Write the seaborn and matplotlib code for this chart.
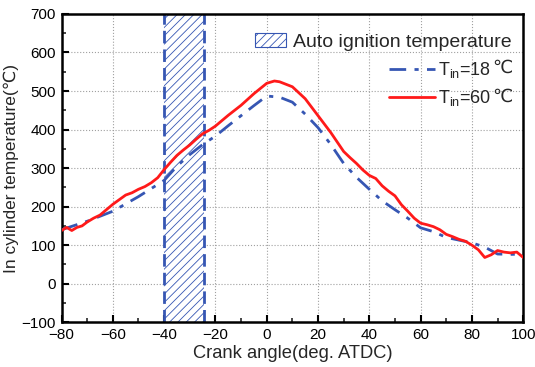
import matplotlib
matplotlib.use("Agg")
import matplotlib.pyplot as plt
from matplotlib.patches import Patch
from matplotlib.lines import Line2D
import seaborn as sns
import pandas as pd
import numpy as np

# ---- data ----
crank_18 = [-80, -70, -60, -50, -40, -35, -30, -25, -20, -15, -10, -5, 0, 5, 10, 15, 20, 25, 30,
            35, 40, 45, 50, 55, 60, 65, 70, 75, 80, 85, 90, 95, 100]
temp_18 = [140, 162, 188, 226, 268, 305, 335, 361, 383, 410, 436, 462, 487, 484, 471, 440, 405, 361, 312,
           276, 245, 215, 192, 170, 145, 135, 120, 113, 106, 95, 77, 76, 77]

crank_60 = [-80, -78, -76, -74, -72, -70, -67.5, -65, -62.5, -60, -57.5, -55, -52.5, -50, -47.5, -45, -42.5,
            -40, -37.5, -35, -32.5, -30, -27.5, -25, -22.5, -20, -15, -10, -5, 0, 3, 5, 10, 15, 20, 25, 30,
            32.5, 35, 37.5, 40, 42.5, 45, 47.5, 50, 52.5, 55, 57.5, 60, 62.5, 65, 67.5, 70, 72.5, 75, 77.5,
            80, 82.5, 85, 87.5, 90, 92.5, 95, 97.5, 100]
temp_60 = [138, 146, 138, 146, 150, 160, 170, 178, 192, 206, 218, 230, 236, 245, 252, 262, 275,
           296, 315, 333, 347, 360, 375, 389, 398, 409, 437, 463, 493, 520, 526, 524, 511, 480, 436, 392, 343,
           327, 312, 295, 281, 273, 254, 240, 228, 205, 188, 170, 157, 153, 148, 140, 128, 122, 115, 110,
           100, 88, 68, 75, 86, 82, 80, 82, 68]

band_start, band_end = -40, -24.5

xticks = [-80, -60, -40, -20, 0, 20, 40, 60, 80, 100]
yticks = [-100, 0, 100, 200, 300, 400, 500, 600, 700]

series_labels = ["T$_{\\rm in}$=18", "T$_{\\rm in}$=60"]
unit = "\u2103"

df18 = pd.DataFrame({"x": crank_18, "y": temp_18})
df60 = pd.DataFrame({"x": crank_60, "y": temp_60})

sns.set_style("ticks")
fam = ["Liberation Sans", "DejaVu Sans", "Noto Sans CJK SC"]
plt.rcParams["font.family"] = fam
plt.rcParams["mathtext.fontset"] = "custom"
plt.rcParams["mathtext.rm"] = "Liberation Sans"
plt.rcParams["mathtext.it"] = "Liberation Sans:italic"
plt.rcParams["mathtext.bf"] = "Liberation Sans:bold"
plt.rcParams["hatch.linewidth"] = 0.6

blue = "#3656b3"
red = "#ff1a1a"

fig = plt.figure(figsize=(5.35, 3.67), dpi=100)
ax = fig.add_axes([0.115, 0.122, 0.863, 0.84])

ax.grid(True, which="major", color="#a0a0a0", linestyle=":", linewidth=0.8)
ax.set_axisbelow(True)

ax.axvspan(band_start, band_end, facecolor="white", edgecolor=blue, hatch="////", linewidth=0, zorder=1)
for xv in (band_start, band_end):
    ax.axvline(xv, color=blue, linestyle=(0, (4.5, 2.2)), linewidth=2.0, zorder=2)

sns.lineplot(data=df18, x="x", y="y", ax=ax, color=blue, linewidth=2.0, zorder=3,
             estimator=None, sort=False)
ax.lines[-1].set_dashes([6, 3, 1.5, 3])
sns.lineplot(data=df60, x="x", y="y", ax=ax, color=red, linewidth=2.0, zorder=4,
             estimator=None, sort=False)

ax.set_xlim(-80, 100)
ax.set_ylim(-100, 700)
ax.set_xticks(xticks)
ax.set_yticks(yticks)
ax.set_xticks(np.arange(-70, 100, 20), minor=True)
ax.set_yticks(np.arange(-50, 700, 100), minor=True)
ax.tick_params(axis="both", which="major", direction="in", length=5, width=1.5, labelsize=11,
               colors="black", pad=4)
ax.tick_params(axis="both", which="minor", direction="in", length=3, width=1.2)
for s in ax.spines.values():
    s.set_linewidth(1.8)
    s.set_color("black")

ax.set_xlabel("Crank angle(deg. ATDC)", fontsize=13.2, labelpad=2)
ax.set_ylabel("In cylinder temperature(" + unit + ")", fontsize=12.5, labelpad=2)

h_patch = Patch(facecolor="white", edgecolor=blue, hatch="////", linewidth=0.8)
leg1 = ax.legend([h_patch], ["Auto ignition temperature"], loc="upper right", frameon=False,
                 fontsize=14, bbox_to_anchor=(1.0, 0.975), handlelength=1.6, handletextpad=0.35,
                 borderaxespad=0.2)
ax.add_artist(leg1)
h18 = Line2D([], [], color=blue, linewidth=2.0, dashes=[6, 3, 1.5, 3])
h60 = Line2D([], [], color=red, linewidth=2.0)
leg2 = ax.legend([h18, h60], series_labels, loc="upper right",
                 frameon=False, fontsize=13, bbox_to_anchor=(0.955, 0.885), handlelength=2.5,
                 handletextpad=0.2, labelspacing=0.45, borderaxespad=0.2)

# append the degree-Celsius sign (not available in the mathtext font) as plain text
fig.canvas.draw()
renderer = fig.canvas.get_renderer()
inv = fig.transFigure.inverted()
for t in leg2.get_texts():
    bb = t.get_window_extent(renderer)
    x1, ytop = inv.transform((bb.x1 + 1, bb.y1))
    fig.text(x1, ytop, unit, fontsize=13, family=fam, ha="left", va="top")

fig.savefig("out.png", dpi=100)
